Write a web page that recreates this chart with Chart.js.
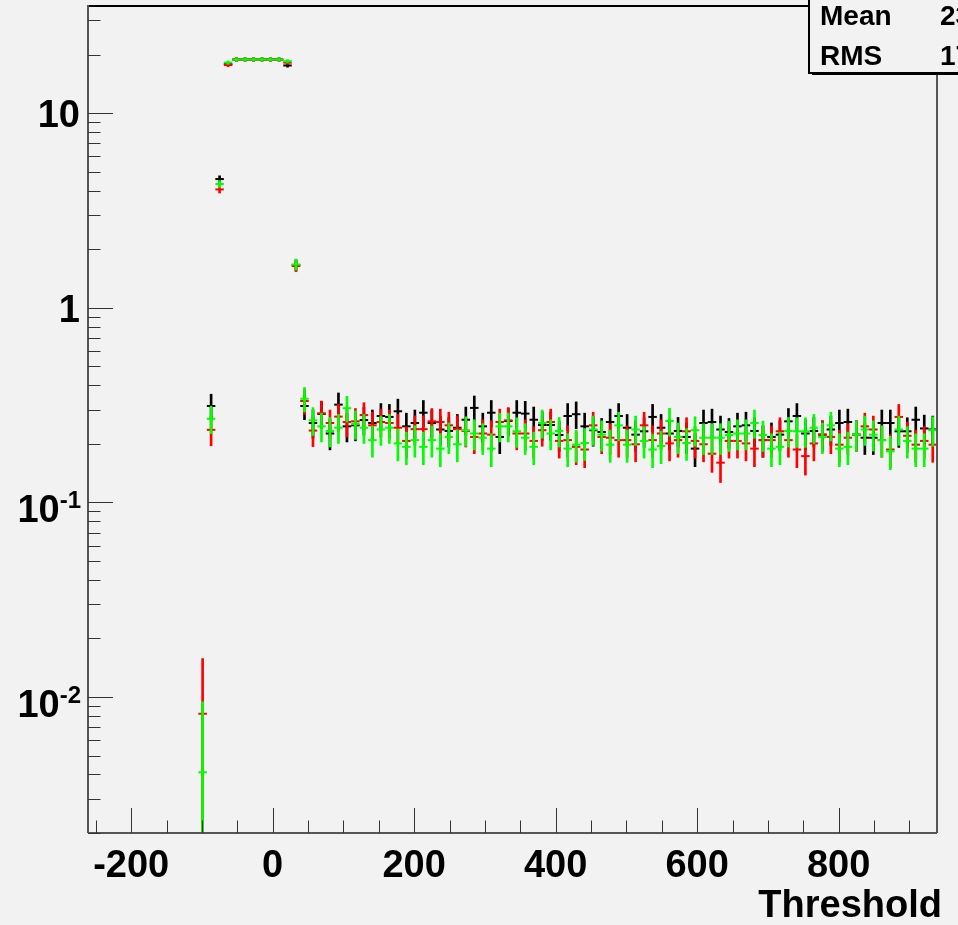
<!DOCTYPE html>
<html>
<head>
<meta charset="utf-8">
<script src="https://cdn.jsdelivr.net/npm/chart.js@4.4.1/dist/chart.umd.min.js"></script>
<style>
  html, body { margin: 0; padding: 0; background: #f2f2f2; }
</style>
</head>
<body>
<canvas id="grafico" width="958" height="925"></canvas>
<script>
// bin centres (bin width 12, histogram range -261 .. 939)
const binCenters = [-99, -87, -75, -63, -51, -39, -27, -15, -3, 9, 21, 33, 45, 57, 69, 81, 93, 105, 117, 129,
  141, 153, 165, 177, 189, 201, 213, 225, 237, 249, 261, 273, 285, 297, 309, 321, 333, 345, 357, 369,
  381, 393, 405, 417, 429, 441, 453, 465, 477, 489, 501, 513, 525, 537, 549, 561, 573, 585, 597, 609,
  621, 633, 645, 657, 669, 681, 693, 705, 717, 729, 741, 753, 765, 777, 789, 801, 813, 825, 837, 849,
  861, 873, 885, 897, 909, 921, 933];

const blackVals = [null, 0.313, 4.59, 17.9, 18.9, 18.9, 18.9, 18.9, 18.9, 18.9, 17.6, 1.66, 0.313, 0.256, 0.285, 0.226, 0.318, 0.246, 0.249, 0.265,
  0.256, 0.278, 0.275, 0.294, 0.246, 0.256, 0.289, 0.256, 0.237, 0.233, 0.242, 0.266, 0.306, 0.246, 0.289, 0.217, 0.262, 0.289, 0.286, 0.266,
  0.250, 0.250, 0.222, 0.278, 0.284, 0.246, 0.235, 0.230, 0.259, 0.278, 0.242, 0.223, 0.232, 0.275, 0.242, 0.226, 0.233, 0.217, 0.189, 0.256,
  0.259, 0.237, 0.230, 0.246, 0.249, 0.233, 0.209, 0.217, 0.223, 0.261, 0.278, 0.226, 0.233, 0.223, 0.237, 0.256, 0.259, 0.223, 0.215, 0.215,
  0.256, 0.256, 0.232, 0.232, 0.266, 0.240, 0.237];

const redVals = [0.0082, 0.236, 4.06, 17.7, 18.9, 18.9, 18.9, 18.9, 18.9, 18.9, 18.2, 1.64, 0.332, 0.234, 0.287, 0.256, 0.276, 0.259, 0.261, 0.281,
  0.249, 0.259, 0.256, 0.242, 0.207, 0.238, 0.238, 0.261, 0.259, 0.249, 0.238, 0.233, 0.217, 0.226, 0.223, 0.259, 0.264, 0.226, 0.226, 0.207,
  0.235, 0.259, 0.207, 0.209, 0.193, 0.187, 0.249, 0.217, 0.215, 0.209, 0.209, 0.199, 0.249, 0.209, 0.226, 0.201, 0.209, 0.232, 0.207, 0.199,
  0.178, 0.160, 0.207, 0.207, 0.201, 0.189, 0.209, 0.209, 0.232, 0.209, 0.187, 0.173, 0.201, 0.223, 0.217, 0.198, 0.215, 0.223, 0.246, 0.237,
  0.209, 0.187, 0.275, 0.220, 0.198, 0.207, 0.198];

const greenVals = [0.0041, 0.269, 4.33, 18.2, 18.9, 18.9, 18.9, 18.9, 18.9, 18.9, 18.5, 1.67, 0.341, 0.264, 0.246, 0.233, 0.242, 0.305, 0.253, 0.242,
  0.209, 0.237, 0.242, 0.201, 0.193, 0.209, 0.193, 0.209, 0.189, 0.217, 0.199, 0.235, 0.226, 0.215, 0.189, 0.246, 0.246, 0.232, 0.215, 0.193,
  0.256, 0.226, 0.233, 0.189, 0.198, 0.202, 0.237, 0.223, 0.198, 0.249, 0.198, 0.237, 0.207, 0.187, 0.195, 0.262, 0.217, 0.202, 0.235, 0.215,
  0.215, 0.215, 0.222, 0.226, 0.226, 0.256, 0.222, 0.189, 0.193, 0.233, 0.232, 0.232, 0.242, 0.217, 0.249, 0.189, 0.193, 0.223, 0.237, 0.223,
  0.209, 0.183, 0.237, 0.207, 0.189, 0.189, 0.235];

const xMajorTicks = [-200, 0, 200, 400, 600, 800];
const yMajorTicks = [0.01, 0.1, 1, 10];
const yTickLabels = [['10', '-2'], ['10', '-1'], ['1', ''], ['10', '']];
const statsLabels = ['Mean', 'RMS'];
const statsValues = ['239.5', '177.3'];
const xTitle = 'Threshold';

const entryWeight = 0.007; // weight of one entry, gives the sqrt(N) error bars
const binWidth = 12;

function histSets(vals, color, order) {
  const marks = [];
  const bars = [];
  vals.forEach((v, k) => {
    if (v == null) return;
    const e = Math.sqrt(v * entryWeight);
    marks.push({ x: binCenters[k], y: v });
    bars.push({ x: binCenters[k], y: [Math.max(v - e, 1e-5), v + e] });
  });
  return [
    { type: 'bar', data: bars, backgroundColor: color, borderWidth: 0, barThickness: 2, grouped: false, order: order + 1 },
    { type: 'scatter', data: marks, pointStyle: 'line', pointRadius: 0, borderColor: color, borderWidth: 2, order: order,
      showLine: false, binMark: true }
  ];
}

const fontBold = size => `bold ${size}px "Liberation Sans", Arial, Helvetica, sans-serif`;

const rootFrame = {
  id: 'rootFrame',
  beforeDraw(chart) {
    const ctx = chart.ctx;
    ctx.save();
    ctx.fillStyle = '#f2f2f2';
    ctx.fillRect(0, 0, chart.width, chart.height);
    ctx.restore();
  },
  beforeDatasetsDraw(chart) {
    // horizontal mark length = one bin
    const xs = chart.scales.x;
    const r = (xs.getPixelForValue(binWidth) - xs.getPixelForValue(0)) / 2;
    chart.data.datasets.forEach((ds, i) => {
      if (!ds.binMark) return;
      chart.getDatasetMeta(i).data.forEach(p => { p.options.radius = r; });
    });
  },
  afterDraw(chart) {
    const ctx = chart.ctx;
    const a = chart.chartArea;
    const xs = chart.scales.x;
    const ys = chart.scales.y;
    const majLen = 25, minLen = 12.5;
    ctx.save();

    // frame
    ctx.strokeStyle = '#000';
    ctx.lineWidth = 2;
    ctx.beginPath();
    ctx.moveTo(a.left, a.top + 1); ctx.lineTo(a.right, a.top + 1);
    ctx.stroke();
    ctx.strokeStyle = '#555';
    ctx.beginPath();
    ctx.moveTo(a.right, a.top); ctx.lineTo(a.right, a.bottom);
    ctx.moveTo(a.left, a.top); ctx.lineTo(a.left, a.bottom);
    ctx.moveTo(a.left, a.bottom); ctx.lineTo(a.right, a.bottom);
    ctx.stroke();

    // x ticks
    ctx.lineWidth = 1;
    ctx.strokeStyle = '#333';
    ctx.beginPath();
    for (let v = -250; v <= 900; v += 50) {
      const px = Math.round(xs.getPixelForValue(v)) + 0.5;
      const len = xMajorTicks.includes(v) ? majLen : minLen;
      ctx.moveTo(px, a.bottom); ctx.lineTo(px, a.bottom - len);
    }
    // y ticks (log)
    for (let d = -3; d <= 1; d++) {
      for (let m = 1; m <= 9; m++) {
        const v = m * Math.pow(10, d);
        if (v < ys.min * 0.999 || v > ys.max) continue;
        const py = Math.round(ys.getPixelForValue(v)) + 0.5;
        const len = m === 1 ? majLen : minLen;
        ctx.moveTo(a.left, py); ctx.lineTo(a.left + len, py);
      }
    }
    ctx.stroke();

    // x labels
    ctx.fillStyle = '#000';
    ctx.font = fontBold(38);
    ctx.textAlign = 'center';
    ctx.textBaseline = 'alphabetic';
    xMajorTicks.forEach(v => {
      ctx.fillText(String(v), xs.getPixelForValue(v), 877);
    });
    // x title
    ctx.textAlign = 'right';
    ctx.fillText(xTitle, 942, 917);

    // y labels with exponents
    yMajorTicks.forEach((v, k) => {
      const py = ys.getPixelForValue(v);
      const [base, exp] = yTickLabels[k];
      ctx.textAlign = 'right';
      if (exp) {
        ctx.font = fontBold(24);
        const ew = ctx.measureText(exp).width;
        ctx.fillText(exp, 81, py + 6);
        ctx.font = fontBold(38);
        ctx.fillText(base, 81 - ew, py + 20);
      } else {
        ctx.font = fontBold(38);
        ctx.fillText(base, 80, py + 14);
      }
    });

    // stats box
    const bx = 809, bb = 73;
    ctx.fillStyle = '#000';
    ctx.fillRect(bx + 3, bb, chart.width, 2);
    ctx.fillStyle = '#f2f2f2';
    ctx.fillRect(bx, -5, chart.width, bb + 5);
    ctx.strokeStyle = '#000';
    ctx.lineWidth = 2;
    ctx.strokeRect(bx, -5, chart.width, bb + 5);
    ctx.fillStyle = '#000';
    ctx.font = fontBold(28);
    ctx.textAlign = 'left';
    statsLabels.forEach((t, k) => {
      ctx.fillText(t, 820, 25 + k * 40);
      ctx.fillText(statsValues[k], 940, 25 + k * 40);
    });
    ctx.restore();
  }
};

new Chart(document.getElementById('grafico').getContext('2d'), {
  type: 'scatter',
  data: {
    datasets: [
      ...histSets(blackVals, '#000000', 5),
      ...histSets(redVals, '#ff0000', 3),
      ...histSets(greenVals, '#00ff00', 1)
    ]
  },
  options: {
    responsive: false,
    devicePixelRatio: 1,
    animation: false,
    events: [],
    layout: { padding: { left: 88, top: 5, right: 21, bottom: 92 } },
    plugins: { legend: { display: false }, tooltip: { enabled: false } },
    scales: {
      x: { type: 'linear', min: -261, max: 939, offset: false, display: false },
      y: { type: 'logarithmic', min: 0.002, max: 36, display: false }
    }
  },
  plugins: [rootFrame]
});
</script>
</body>
</html>
